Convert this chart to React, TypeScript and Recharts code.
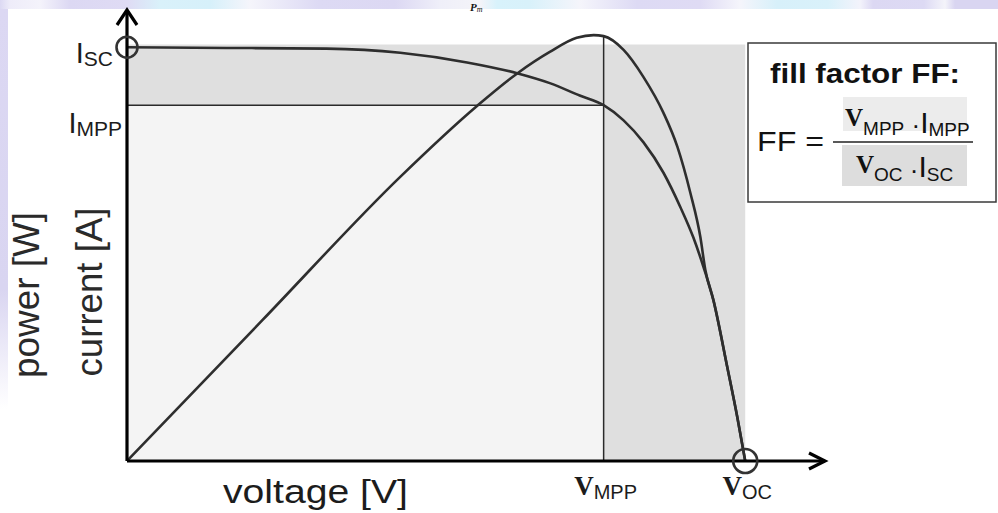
import React from "react";
import {
  ComposedChart,
  Line,
  XAxis,
  YAxis,
  ReferenceArea,
  ReferenceLine,
  ReferenceDot,
} from "recharts";

const W = 998;
const H = 513;

const SANS = '"Liberation Sans", Arial, sans-serif';
const SERIF = '"Liberation Serif", "Times New Roman", serif';
const INK = "#1c1c1c";
const CURVE = "#2e2e2e";

// characteristic points of the cell
const V_MPP = 0.478;
const V_OC = 0.62;
const I_MPP = 2.58;
const I_SC = 3.0;
const SHADE_TOP = 3.02;

const voltageMax = 0.7;
const currentMax = 3.27;
const powerMax = 1.311;

// I-V curve
const ivVoltage = [0, 0.1, 0.2, 0.274, 0.341, 0.392, 0.424, 0.454, 0.478, 0.498, 0.518, 0.538, 0.555, 0.568, 0.578, 0.588, 0.602, 0.612, 0.62];
const ivCurrent = [3.0, 2.995, 2.99, 2.96, 2.89, 2.81, 2.74, 2.65, 2.58, 2.47, 2.31, 2.09, 1.84, 1.62, 1.41, 1.17, 0.68, 0.32, 0];

// P-V curve
const pvVoltage = [0, 0.136, 0.274, 0.351, 0.392, 0.424, 0.451, 0.468, 0.478, 0.498, 0.518, 0.538, 0.552, 0.565, 0.575, 0.58, 0.588, 0.602, 0.612, 0.62];
const pvPower = [0, 0.41, 0.826, 1.032, 1.128, 1.189, 1.23, 1.238, 1.235, 1.195, 1.116, 1.012, 0.913, 0.779, 0.651, 0.555, 0.468, 0.273, 0.128, 0];

const xTicks = [V_MPP, V_OC];
const xTickSubs = ["MPP", "OC"];
const yTicks = [I_MPP, I_SC];
const yTickSubs = ["MPP", "SC"];

const ivData = ivVoltage.map((v, k) => ({ v, i: ivCurrent[k] }));
const pvData = pvVoltage.map((v, k) => ({ v, p: pvPower[k] }));
const pPeak = Math.max(...pvPower);

const near = (a: number, b: number) => Math.abs(a - b) < 1e-9;

function VoltageTick(props: any) {
  const { x, y, payload } = props;
  const k = xTicks.findIndex((t) => near(t, payload.value));
  return (
    <text x={x + 2} y={y + 34} textAnchor="middle" fill={INK}>
      <tspan fontFamily={SERIF} fontWeight={700} fontSize={27}>V</tspan>
      <tspan fontFamily={SANS} fontSize={20} dy={4}>{xTickSubs[k]}</tspan>
    </text>
  );
}

function CurrentTick(props: any) {
  const { x, y, payload } = props;
  const k = yTicks.findIndex((t) => near(t, payload.value));
  const isSc = k === 1;
  // Isc label sits left of the circle, Impp label hugs the axis
  return (
    <text x={x - (isSc ? 14 : 5)} y={y + (isSc ? 16 : 28)} textAnchor="end" fill={INK} fontFamily={SANS}>
      <tspan fontSize={29}>I</tspan>
      <tspan fontSize={21} dy={3}>{yTickSubs[k]}</tspan>
    </text>
  );
}

const upArrow = (p: any) => (
  <polyline
    points={`${p.cx - 10},${p.cy + 15} ${p.cx},${p.cy} ${p.cx + 10},${p.cy + 15}`}
    fill="none"
    stroke="#000"
    strokeWidth={3.2}
  />
);

const rightArrow = (p: any) => (
  <polyline
    points={`${p.cx - 16},${p.cy - 8} ${p.cx},${p.cy} ${p.cx - 16},${p.cy + 8}`}
    fill="none"
    stroke="#000"
    strokeWidth={3.2}
  />
);

const topBand =
  "linear-gradient(to right, #dcd9f3 0px, #eeecf9 10px, #f4f3fb 40px, #dcd8f3 70px, #dfdbf4 127px, #d9f1fa 160px, #d6f0fa 210px, #f5f5fb 250px, #dddaf4 318px, #dcd8f3 395px, #efeff9 440px, #f4f4f9 480px, #d8f2fb 497px, #d8f1fa 529px, #f5f5fb 580px, #dddaf4 637px, #dfdbf4 700px, #f5f5fb 740px, #d7f0fa 777px, #d9f1fa 828px, #f3f3fb 860px, #dcd8f3 873px, #dddaf4 924px, #f4f4fa 945px, #d9d5f1 955px, #d9d5f1 998px)";

export default function App() {
  return (
    <div style={{ position: "absolute", left: 0, top: 0, width: W, height: H, background: "#fff", overflow: "hidden" }}>
      <div style={{ position: "absolute", left: 0, top: 0, width: W, height: 9, background: topBand }} />
      <div
        style={{
          position: "absolute",
          left: 0,
          top: 9,
          width: 8,
          height: 400,
          background: "linear-gradient(to bottom, #dcd8f3, #d9d5f1 70%, #ffffff)",
        }}
      />
      <div style={{ position: "absolute", left: 0, top: 0 }}>
        <ComposedChart width={W} height={H} margin={{ top: 10, right: 173, bottom: 12, left: 67 }}>
          <ReferenceArea
            yAxisId="I"
            x1={0}
            x2={V_OC}
            y1={0}
            y2={SHADE_TOP}
            fill="#dfdfdf"
            fillOpacity={1}
            stroke="none"
            ifOverflow="visible"
          />
          <ReferenceArea
            yAxisId="I"
            x1={0}
            x2={V_MPP}
            y1={0}
            y2={I_MPP}
            fill="#f4f4f4"
            fillOpacity={1}
            stroke="none"
            ifOverflow="visible"
          />
          <ReferenceLine
            yAxisId="I"
            segment={[{ x: 0, y: I_MPP }, { x: V_MPP, y: I_MPP }]}
            stroke="#2a2a2a"
            strokeWidth={1.5}
            ifOverflow="visible"
          />
          <ReferenceLine
            yAxisId="P"
            segment={[{ x: V_MPP, y: 0 }, { x: V_MPP, y: pPeak }]}
            stroke="#2a2a2a"
            strokeWidth={1.5}
            ifOverflow="visible"
          />
          <XAxis
            dataKey="v"
            type="number"
            domain={[0, voltageMax]}
            allowDataOverflow
            ticks={xTicks}
            interval={0}
            tick={(p: any) => <VoltageTick {...p} />}
            tickLine={false}
            tickSize={0}
            tickMargin={0}
            height={40}
            axisLine={{ stroke: "#000", strokeWidth: 3.2 }}
          />
          <YAxis
            yAxisId="I"
            type="number"
            domain={[0, currentMax]}
            allowDataOverflow
            ticks={yTicks}
            interval={0}
            tick={(p: any) => <CurrentTick {...p} />}
            tickLine={false}
            tickSize={0}
            tickMargin={0}
            width={60}
            axisLine={{ stroke: "#000", strokeWidth: 3.2 }}
          />
          <YAxis yAxisId="P" type="number" domain={[0, powerMax]} allowDataOverflow hide />
          <Line
            yAxisId="P"
            data={pvData}
            dataKey="p"
            type="monotone"
            stroke={CURVE}
            strokeWidth={2.6}
            dot={false}
            activeDot={false}
            isAnimationActive={false}
          />
          <Line
            yAxisId="I"
            data={ivData}
            dataKey="i"
            type="monotone"
            stroke={CURVE}
            strokeWidth={2.6}
            dot={false}
            activeDot={false}
            isAnimationActive={false}
          />
          <ReferenceDot yAxisId="I" x={0} y={I_SC} r={10.5} fill="none" stroke="#333" strokeWidth={2.6} ifOverflow="visible" />
          <ReferenceDot yAxisId="I" x={V_OC} y={0} r={12} fill="none" stroke="#333" strokeWidth={2.6} ifOverflow="visible" />
          <ReferenceDot yAxisId="I" x={0} y={currentMax} r={1} shape={upArrow} ifOverflow="visible" />
          <ReferenceDot yAxisId="I" x={voltageMax} y={0} r={1} shape={rightArrow} ifOverflow="visible" />
        </ComposedChart>
      </div>

      <svg width={W} height={H} style={{ position: "absolute", left: 0, top: 0, pointerEvents: "none" }}>
        {/* heading fragment peeking in at the very top */}
        <text x={470} y={11} fill="#111" fontFamily={SERIF} fontStyle="italic">
          <tspan fontSize={11} fontWeight={700}>P</tspan>
          <tspan fontSize={8} dy={1}>m</tspan>
        </text>

        <text
          x={315.5}
          y={503}
          textAnchor="middle"
          fontFamily={SANS}
          fontSize={33}
          textLength={185}
          lengthAdjust="spacingAndGlyphs"
          fill={INK}
        >
          voltage [V]
        </text>
        <text
          transform="translate(102,292) rotate(-90)"
          textAnchor="middle"
          fontFamily={SANS}
          fontSize={36}
          textLength={169}
          lengthAdjust="spacingAndGlyphs"
          fill="#2a2a2a"
        >
          current [A]
        </text>
        <text
          transform="translate(39,295) rotate(-90)"
          textAnchor="middle"
          fontFamily={SANS}
          fontSize={36}
          textLength={166}
          lengthAdjust="spacingAndGlyphs"
          fill="#2a2a2a"
        >
          power [W]
        </text>

        {/* fill factor box */}
        <rect x={748} y={43} width={248} height={159} fill="#fff" stroke="#3a3a3a" strokeWidth={1.5} />
        <text
          x={770}
          y={83}
          fontFamily={SANS}
          fontWeight={700}
          fontSize={28}
          textLength={190}
          lengthAdjust="spacingAndGlyphs"
          fill="#111"
        >
          fill factor FF:
        </text>
        <text x={757} y={151} fontFamily={SANS} fontSize={28} textLength={67} lengthAdjust="spacingAndGlyphs" fill="#111">
          FF =
        </text>
        <rect x={843} y={97} width={124} height={34} fill="#ececec" />
        <rect x={842} y={145} width={125} height={41} fill="#dddddd" />
        <line x1={833} y1={142} x2={973} y2={142} stroke="#222" strokeWidth={1.5} />
        <text x={845} y={126} fill="#111">
          <tspan fontFamily={SERIF} fontWeight={700} fontSize={25}>V</tspan>
          <tspan fontFamily={SANS} fontSize={19} dy={9}>MPP</tspan>
          <tspan fontFamily={SANS} fontSize={26} dy={-1}> ·</tspan>
          <tspan fontFamily={SANS} fontSize={30} dy={-1}>I</tspan>
          <tspan fontFamily={SANS} fontSize={19} dy={3}>MPP</tspan>
        </text>
        <text x={856} y={173} fill="#111">
          <tspan fontFamily={SERIF} fontWeight={700} fontSize={25}>V</tspan>
          <tspan fontFamily={SANS} fontSize={19} dy={8}>OC</tspan>
          <tspan fontFamily={SANS} fontSize={26} dy={-2}> ·</tspan>
          <tspan fontFamily={SANS} fontSize={30} dy={-2}>I</tspan>
          <tspan fontFamily={SANS} fontSize={19} dy={4}>SC</tspan>
        </text>
      </svg>
    </div>
  );
}
